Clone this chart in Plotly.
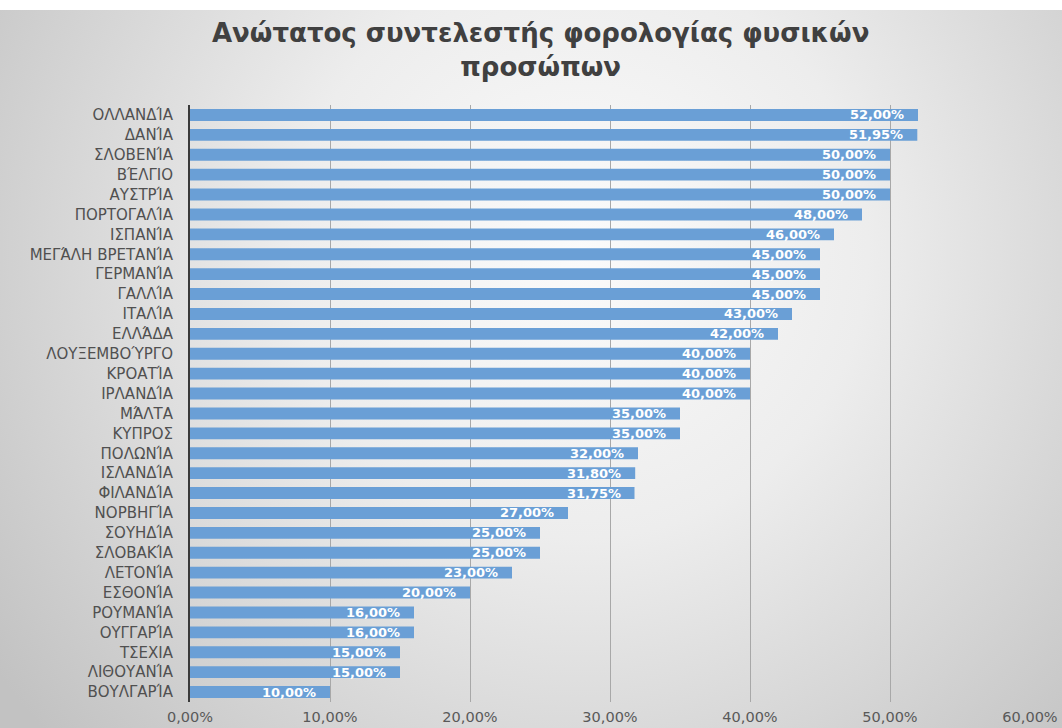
import base64
import plotly.graph_objects as go

# Top marginal personal income tax rate by country (%)
countries = [
    "ΟΛΛΑΝΔΊΑ", "ΔΑΝΊΑ", "ΣΛΟΒΕΝΊΑ", "ΒΈΛΓΙΟ", "ΑΥΣΤΡΊΑ", "ΠΟΡΤΟΓΑΛΊΑ",
    "ΙΣΠΑΝΊΑ", "ΜΕΓΆΛΗ ΒΡΕΤΑΝΊΑ", "ΓΕΡΜΑΝΊΑ", "ΓΑΛΛΊΑ", "ΙΤΑΛΊΑ", "ΕΛΛΆΔΑ",
    "ΛΟΥΞΕΜΒΟΎΡΓΟ", "ΚΡΟΑΤΊΑ", "ΙΡΛΑΝΔΊΑ", "ΜΆΛΤΑ", "ΚΥΠΡΟΣ", "ΠΟΛΩΝΊΑ",
    "ΙΣΛΑΝΔΊΑ", "ΦΙΛΑΝΔΊΑ", "ΝΟΡΒΗΓΊΑ", "ΣΟΥΗΔΊΑ", "ΣΛΟΒΑΚΊΑ", "ΛΕΤΟΝΊΑ",
    "ΕΣΘΟΝΊΑ", "ΡΟΥΜΑΝΊΑ", "ΟΥΓΓΑΡΊΑ", "ΤΣΕΧΙΑ", "ΛΙΘΟΥΑΝΊΑ", "ΒΟΥΛΓΑΡΊΑ",
]
rates = [
    52.00, 51.95, 50.00, 50.00, 50.00, 48.00,
    46.00, 45.00, 45.00, 45.00, 43.00, 42.00,
    40.00, 40.00, 40.00, 35.00, 35.00, 32.00,
    31.80, 31.75, 27.00, 25.00, 25.00, 23.00,
    20.00, 16.00, 16.00, 15.00, 15.00, 10.00,
]
x_ticks = [0, 10, 20, 30, 40, 50, 60]
x_tick_labels = ["0,00%", "10,00%", "20,00%", "30,00%", "40,00%", "50,00%", "60,00%"]

title_text = "Ανώτατος συντελεστής φορολογίας φυσικών<br>προσώπων"

W, H = 1062, 728
ML, MR, MT, MB = 190, 32, 105, 26
PW, PH = W - ML - MR, H - MT - MB


def fmt(v):
    return f"{v:.2f}".replace(".", ",") + "%"


# soft radial backdrop behind the whole chart
svg = (
    "<svg xmlns='http://www.w3.org/2000/svg' width='1062' height='718' "
    "viewBox='0 0 1062 718' preserveAspectRatio='none'>"
    "<defs><radialGradient id='g' cx='580' cy='240' r='720' "
    "gradientUnits='userSpaceOnUse'>"
    "<stop offset='0' stop-color='#fbfbfb'/>"
    "<stop offset='0.4' stop-color='#ededed'/>"
    "<stop offset='1' stop-color='#c2c2c2'/>"
    "</radialGradient></defs>"
    "<rect width='1062' height='718' fill='url(#g)'/></svg>"
)
bg_src = "data:image/svg+xml;base64," + base64.b64encode(svg.encode()).decode()

fig = go.Figure(
    go.Bar(
        x=rates,
        y=countries,
        orientation="h",
        marker=dict(color="#6a9fd6", line=dict(width=0)),
        hoverinfo="x+y",
    )
)

# value labels sitting just inside the end of each bar
annotations = [
    dict(
        x=v, y=c, xref="x", yref="y",
        text=fmt(v), showarrow=False,
        xanchor="right", yanchor="middle", xshift=-12,
        font=dict(family="DejaVu Sans", size=13, color="white", weight="bold"),
    )
    for c, v in zip(countries, rates)
]

# two-line chart heading
annotations.append(
    dict(
        text=title_text,
        xref="paper", yref="paper",
        x=(540 - ML) / PW, y=1 + (MT - 16) / PH,
        xanchor="center", yanchor="top",
        showarrow=False, align="center",
        font=dict(family="DejaVu Sans", size=26, color="#404040", weight="bold"),
    )
)

fig.update_layout(
    width=W,
    height=H,
    margin=dict(l=ML, r=MR, t=MT, b=MB),
    paper_bgcolor="white",
    plot_bgcolor="rgba(0,0,0,0)",
    bargap=0.4,
    showlegend=False,
    xaxis=dict(
        range=[0, 60],
        tickvals=x_ticks,
        ticktext=x_tick_labels,
        showgrid=True,
        gridcolor="#a8a8a8",
        gridwidth=1,
        zeroline=False,
        showline=False,
        ticks="",
        automargin=False,
        ticklabelstandoff=4,
        tickfont=dict(family="DejaVu Sans", size=14.5, color="#595959"),
        fixedrange=True,
    ),
    yaxis=dict(
        autorange="reversed",
        showgrid=False,
        showline=True,
        linecolor="#3a3a3a",
        linewidth=2,
        # invisible ticks keep the labels clear of the axis line
        ticks="outside",
        ticklen=12,
        tickcolor="rgba(0,0,0,0)",
        automargin=False,
        tickfont=dict(family="DejaVu Sans", size=15, color="#505050"),
        fixedrange=True,
    ),
    annotations=annotations,
    images=[
        dict(
            source=bg_src,
            xref="paper", yref="paper",
            x=-ML / PW, y=1 + (MT - 10) / PH,
            sizex=W / PW, sizey=(H - 10) / PH,
            xanchor="left", yanchor="top",
            sizing="stretch", layer="below",
        )
    ],
)

fig.write_html("out.html")
